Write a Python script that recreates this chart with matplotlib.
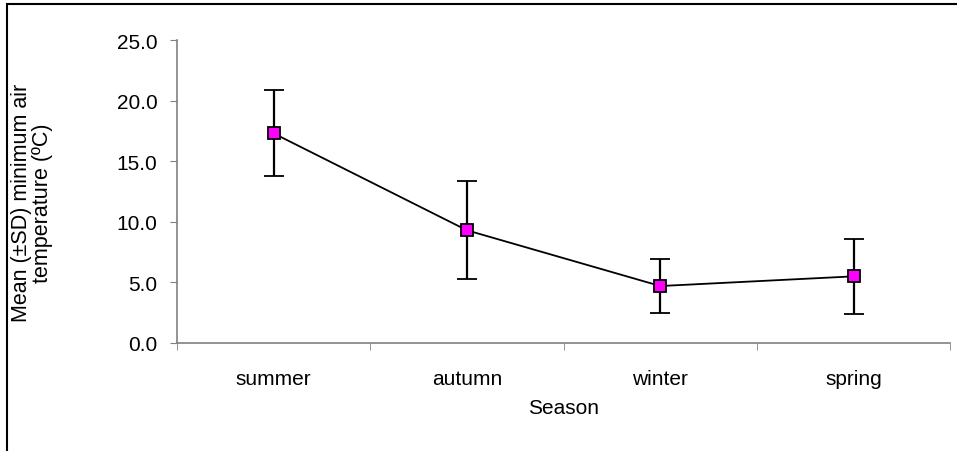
import matplotlib.pyplot as plt
from matplotlib.patches import Rectangle

seasons = ['summer', 'autumn', 'winter', 'spring']
mean_temp = [17.3, 9.3, 4.7, 5.5]
sd_temp = [3.55, 4.05, 2.2, 3.1]
y_ticks = [0, 5, 10, 15, 20, 25]

plt.rcParams['font.family'] = ['Liberation Sans', 'DejaVu Sans']

fig = plt.figure(figsize=(9.57, 4.52), dpi=100)
ax = fig.add_axes([0.185, 0.239, 0.808, 0.670])

x = list(range(len(seasons)))
ax.errorbar(x, mean_temp, yerr=sd_temp, color='black', lw=1.3,
            ecolor='black', elinewidth=1.6, capsize=7, capthick=1.6,
            marker='s', markersize=8, markerfacecolor='#ff00ff',
            markeredgecolor='black', markeredgewidth=1.3)

ax.set_xlim(-0.5, len(seasons) - 0.5)
ax.set_ylim(0, 25)
ax.set_yticks(y_ticks)
ax.set_yticklabels([f'{v:.1f}' for v in y_ticks], fontsize=15)
ax.set_xticks(x)
ax.set_xticklabels(seasons, fontsize=15)
ax.tick_params(axis='x', length=0, pad=19)
ax.set_xticks([v - 0.5 for v in range(len(seasons) + 1)], minor=True)
ax.tick_params(axis='x', which='minor', length=5, color='#808080', direction='out')
ax.tick_params(axis='y', length=5, color='#808080', direction='out', pad=9)

for side in ['top', 'right']:
    ax.spines[side].set_visible(False)
for side in ['left', 'bottom']:
    ax.spines[side].set_color('#808080')
    ax.spines[side].set_linewidth(1.2)

ax.set_xlabel('Season', fontsize=15, labelpad=7)
ax.set_ylabel('Mean (±SD) minimum air\ntemperature (ºC)', fontsize=15.5,
              linespacing=1.0, multialignment='center')
ax.yaxis.set_label_coords(-0.16, 0.465)

# outer frame of the chart area
fig.patches.append(Rectangle((0.007, -0.05), 1.1, 1.04, transform=fig.transFigure,
                             fill=False, edgecolor='black', lw=1.5))

fig.savefig('out.png', dpi=100)
